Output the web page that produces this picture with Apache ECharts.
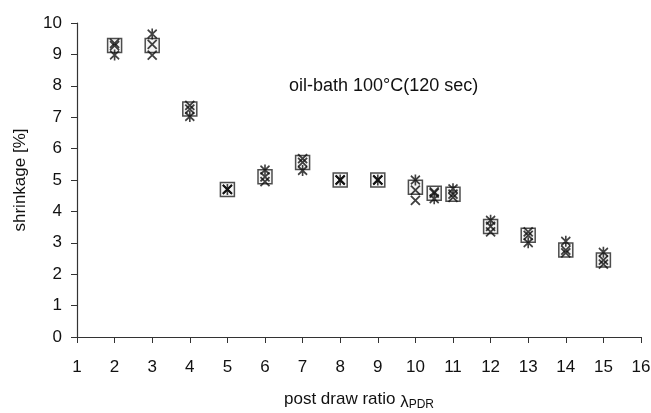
<!DOCTYPE html>
<html><head><meta charset="utf-8">
<script src="https://cdn.jsdelivr.net/npm/echarts@6/dist/echarts.min.js"></script>
<style>html,body{margin:0;padding:0;background:#fff}#c{width:651px;height:413px}</style>
</head><body><div id="c"></div>
<script>
const drawRatio = [2,3,4,5,6,7,8,9,10,10.5,11,12,13,14,15];
const meanShrink = [9.28,9.28,7.26,4.7,5.1,5.56,5.0,5.0,4.77,4.58,4.55,3.52,3.24,2.77,2.45];
const sampleX = [9.35,9.32,7.38,4.7,4.95,5.68,5.0,5.0,4.35,4.62,4.45,3.35,3.35,2.68,2.32];
const sampleStar = [8.98,9.65,7.02,4.7,5.32,5.3,5.0,5.0,5.0,4.4,4.72,3.72,3.0,3.05,2.7];
const sampleMid = [9.28,8.98,7.26,4.7,5.1,5.56,5.0,5.0,4.68,4.58,4.55,3.52,3.24,2.77,2.45];
const xTicks = {min:1,max:16,interval:1};
const yTicks = {min:0,max:10,interval:1};

const pair = (ys) => drawRatio.map((x,i)=>[x,ys[i]]);
const xPath = 'path://M0,0L10,10M10,0L0,10';
const starPath = 'path://M0,0L10,10M10,0L0,10M5,-1.5L5,11.5';
const font = 'Liberation Sans, Arial, sans-serif';

const chart = echarts.init(document.getElementById('c'), null, {renderer:'canvas'});
chart.setOption({
  animation:false,
  backgroundColor:'#fff',
  grid:{left:77,right:10,top:23,bottom:76,containLabel:false,outerBoundsMode:'none'},
  title:{text:'oil-bath 100\u00B0C(120 sec)',left:284,top:72,
    textStyle:{fontFamily:font,fontSize:18,fontWeight:'normal',color:'#111'}},
  xAxis:{type:'value',min:xTicks.min,max:xTicks.max,interval:xTicks.interval,
    name:'{a|post draw ratio }{b|\u03BB}{c|PDR}',nameLocation:'middle',nameGap:51,
    nameTextStyle:{rich:{
      a:{fontFamily:font,fontSize:17,color:'#111'},
      b:{fontFamily:font,fontSize:17,color:'#111',padding:[6,0,0,0]},
      c:{fontFamily:font,fontSize:12,color:'#111',padding:[10,0,0,0]}}},
    axisLine:{lineStyle:{color:'#333',width:1.2}},
    axisTick:{show:true,length:6,lineStyle:{color:'#333'}},
    splitLine:{show:false},
    axisLabel:{fontFamily:font,fontSize:17,color:'#111',margin:22}},
  yAxis:{type:'value',min:yTicks.min,max:yTicks.max,interval:yTicks.interval,
    name:'shrinkage [%]',nameLocation:'middle',nameGap:48,
    nameTextStyle:{fontFamily:font,fontSize:17,color:'#111'},
    axisLine:{show:true,lineStyle:{color:'#333',width:1.2}},
    axisTick:{show:true,length:6,lineStyle:{color:'#333'}},
    splitLine:{show:false},
    axisLabel:{fontFamily:font,fontSize:17,color:'#111',margin:15}},
  series:[
    {type:'scatter',data:pair(meanShrink),symbol:'rect',symbolSize:14,
      itemStyle:{color:'rgba(235,235,235,0.6)',borderColor:'#222',borderWidth:1.5}},
    {type:'scatter',data:pair(sampleMid),symbol:xPath,symbolSize:[9,9],
      itemStyle:{color:'transparent',borderColor:'#111',borderWidth:1.8}},
    {type:'scatter',data:pair(sampleX),symbol:xPath,symbolSize:[9,9],
      itemStyle:{color:'transparent',borderColor:'#111',borderWidth:1.8}},
    {type:'scatter',data:pair(sampleStar),symbol:starPath,symbolSize:[9,11],
      itemStyle:{color:'transparent',borderColor:'#111',borderWidth:1.8}}
  ]
});
</script></body></html>
